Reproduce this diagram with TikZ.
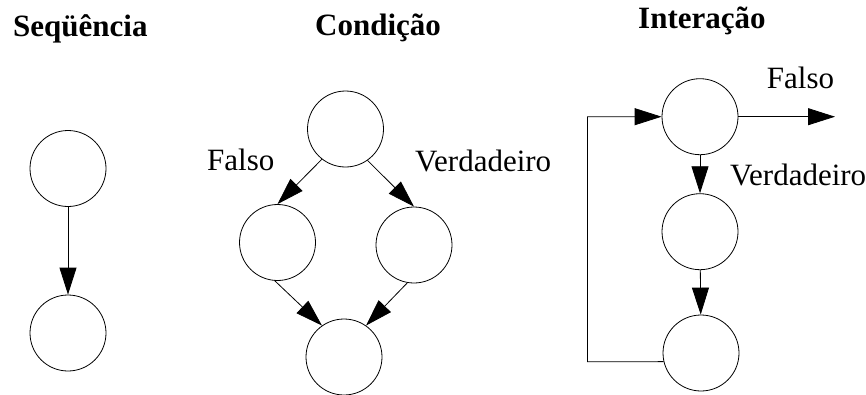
\documentclass[tikz,border=0pt]{standalone}
\usepackage{fontspec}
\setmainfont{Liberation Serif}
\usetikzlibrary{arrows.meta}
\newcommand{\tBig}{\fontsize{31}{37}\selectfont}

\begin{document}
\begin{tikzpicture}[x=1pt, y=-1pt,
		state/.style={draw, circle, line width=0.8pt, inner sep=0pt, minimum size=76pt},
		flow/.style={draw, line width=0.8pt, -{Triangle[length=27pt, width=17pt]}},
		title/.style={anchor=base west, inner sep=0pt, font=\tBig\bfseries},
		lbl/.style={anchor=base west, inner sep=0pt, font=\tBig}]
	\useasboundingbox (0,0) rectangle (866,394);

	% Sequencia
	\node[title] (tSeq) at (13,36.7) {Seqüência};
	\node[state] (s1) at (68,168.5) {};
	\node[state] (s2) at (68,333) {};
	\draw[flow] (s1) -- (s2);

	% Condicao
	\node[title] (tCond) at (315,35) {Condição};
	\node[state] (c0) at (345.5,129) {};
	\node[state] (cL) at (277.5,242.5) {};
	\node[state] (cR) at (414,245) {};
	\node[state] (cB) at (344,357) {};
	\node[lbl] (cF) at (207,170.7) {Falso};
	\node[lbl] (cV) at (415,171.7) {Verdadeiro};
	\draw[flow] (c0.232) -- (cL.north);
	\draw[flow] (c0.305) -- (cR.north);
	\draw[flow] (cL.266) -- (cB.125);
	\draw[flow] (cR.260) -- (cB.55);

	% Interacao
	\node[title] (tInt) at (638,28.3) {Interação};
	\node[state] (i1) at (700,116.7) {};
	\node[state] (i2) at (700,231.7) {};
	\node[state] (i3) at (701,353) {};
	\node[lbl] (iF) at (766.7,88.3) {Falso};
	\node[lbl] (iV) at (730,185) {Verdadeiro};
	\coordinate (iOut) at (835,116.7);
	\coordinate (iBack) at (587.5,361.7);
	\draw[flow] (i1) -- (i2);
	\draw[flow] (i2) -- (i3);
	\draw[flow] (i1.east) -- (iOut);
	\draw[flow] (i3.193) -- (iBack) |- (i1.west);
\end{tikzpicture}
\end{document}
